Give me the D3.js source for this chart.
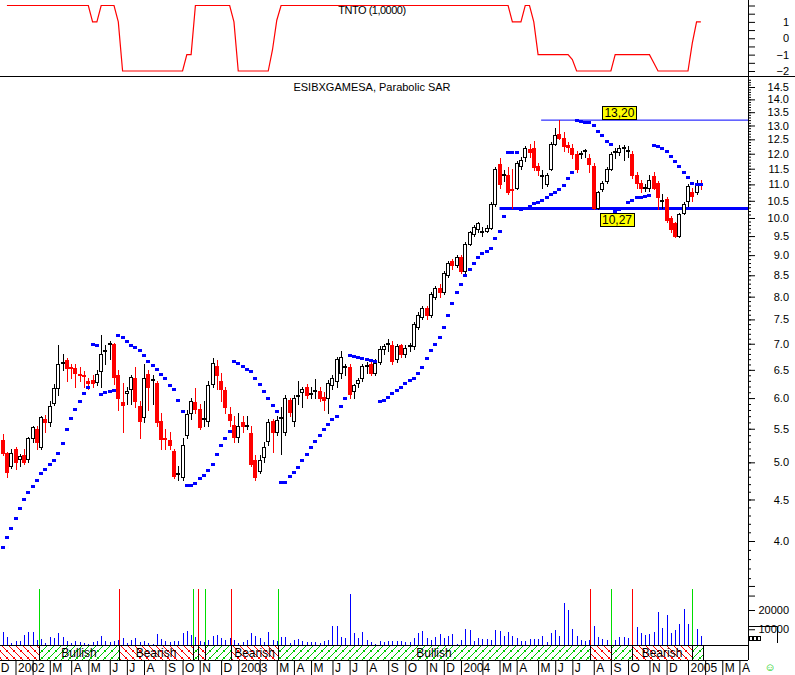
<!DOCTYPE html>
<html><head><meta charset="utf-8">
<script src="https://cdn.jsdelivr.net/npm/d3@7"></script>
<style>
body{margin:0;background:#fff}
svg{display:block}
text{font-family:"Liberation Sans",Arial,sans-serif}
</style>
</head><body>
<svg id="c" width="795" height="675"></svg>
<script>
// ---------------- DATA ----------------
const firstBar = "2001-12-07", lastBar = "2005-01-28";   // weekly bars (Fridays)
const open = [
5.95,5.33,5.13,4.95,5.20,5.05,5.10,5.05,5.35,5.50,
5.22,5.66,5.60,5.92,6.17,6.62,6.68,6.56,6.53,6.42,
6.40,6.30,6.32,6.28,6.47,6.85,7.00,7.00,6.41,5.93,
6.08,6.15,6.35,5.87,5.69,6.42,6.32,6.26,5.63,5.36,
5.33,5.16,4.84,4.79,5.40,5.75,5.93,5.82,5.66,5.62,
6.25,6.58,6.30,6.14,5.74,5.56,5.38,5.60,5.55,5.44,
5.03,4.88,5.08,5.31,5.63,5.45,5.67,5.45,5.97,5.63,
6.03,6.10,6.20,6.07,6.12,6.12,6.02,6.00,6.23,6.30,
6.45,6.55,6.55,6.12,6.26,6.36,6.57,6.60,6.45,6.65,
6.90,7.00,6.97,6.70,6.97,6.80,6.95,6.95,7.35,7.55,
7.75,7.60,8.00,8.20,8.10,8.50,8.85,8.75,8.95,8.60,
9.30,9.55,9.70,9.62,9.65,9.73,10.40,11.65,11.30,11.30,
10.85,10.90,11.60,11.90,12.15,12.20,11.60,11.25,11.00,11.50,
12.35,12.70,12.55,12.30,12.20,12.00,12.00,12.08,11.85,11.60,
10.30,10.85,11.10,11.50,12.05,12.05,12.20,12.10,12.00,11.30,
11.05,10.90,10.88,11.25,11.05,10.50,10.55,10.00,9.85,9.50,
10.15,10.50,10.75,10.75,11.05];
const high = [
6.00,5.42,5.15,5.20,5.22,5.12,5.20,5.38,5.55,5.55,
5.70,5.72,5.95,6.25,6.97,6.80,6.72,6.60,6.60,6.55,
6.48,6.35,6.40,6.50,7.17,6.98,7.05,7.02,6.50,6.27,
6.20,6.40,6.55,5.95,6.60,6.50,6.40,6.30,5.75,5.50,
5.45,5.20,4.95,5.35,5.80,6.00,6.18,5.90,5.95,6.30,
6.72,6.68,6.45,6.20,5.85,5.70,5.75,5.70,5.70,5.55,
5.10,5.10,5.30,5.65,5.65,5.70,5.85,6.05,6.00,6.05,
6.30,6.20,6.25,6.20,6.33,6.20,6.10,6.32,6.40,6.75,
6.85,6.60,6.60,6.25,6.35,6.60,6.65,6.65,6.70,6.95,
7.00,7.10,7.05,7.00,7.00,6.98,7.02,7.45,7.65,7.80,
7.80,8.10,8.25,8.30,8.60,8.85,8.90,9.00,9.00,9.35,
9.65,9.80,9.90,9.75,9.80,10.45,11.55,11.85,11.45,11.55,
11.50,11.75,11.90,12.25,12.35,12.45,11.70,11.45,11.35,12.40,
12.90,13.20,12.75,12.40,12.35,12.10,12.10,12.15,12.00,11.70,
10.80,11.10,11.55,12.05,12.20,12.30,12.30,12.25,12.10,11.40,
11.15,11.00,11.30,11.40,11.10,10.70,10.60,10.05,9.90,10.15,
10.45,11.00,10.90,11.15,11.15];
const low = [
5.05,5.10,4.80,4.92,4.90,4.95,4.98,5.00,5.30,5.20,
5.20,5.45,5.55,5.88,6.05,6.50,6.30,6.35,6.20,6.30,
6.20,6.15,6.20,6.22,6.20,6.60,6.70,6.25,5.80,5.45,
5.90,5.90,5.85,5.35,5.60,5.80,5.90,5.55,5.20,5.20,
5.20,4.78,4.75,4.75,5.35,5.65,5.75,5.50,5.55,5.55,
6.20,6.15,5.95,5.75,5.55,5.30,5.30,5.45,5.50,4.95,
4.75,4.85,5.00,5.25,5.15,5.40,5.12,5.40,5.70,5.55,
5.90,5.85,6.00,6.00,6.00,5.95,5.80,5.75,6.15,6.20,
6.35,6.40,6.00,6.00,6.20,6.30,6.45,6.40,6.40,6.60,
6.80,6.85,6.60,6.65,6.75,6.75,6.85,6.90,7.30,7.50,
7.50,7.55,7.95,8.00,8.05,8.45,8.65,8.70,8.55,8.55,
9.25,9.50,9.60,9.50,9.60,9.70,10.35,10.90,11.10,10.70,
10.28,10.85,11.50,11.75,11.90,11.45,11.30,10.90,10.95,11.45,
12.30,12.50,12.10,12.05,11.85,11.40,11.85,11.90,11.40,10.27,
10.27,10.80,11.05,11.45,11.85,11.95,11.80,11.90,11.20,10.90,
10.75,10.80,10.80,10.85,10.25,10.30,9.90,9.60,9.48,9.48,
10.10,10.35,10.50,10.70,10.85];
const close = [
5.13,5.13,4.87,5.13,5.01,5.09,5.01,5.35,5.52,5.30,
5.68,5.60,5.87,6.17,6.60,6.62,6.53,6.53,6.45,6.40,
6.38,6.26,6.26,6.43,6.80,6.88,7.00,6.37,6.00,5.88,
6.12,6.37,5.95,5.62,6.35,6.20,6.32,5.60,5.34,5.34,
5.25,4.81,4.84,5.25,5.74,5.95,5.82,5.53,5.66,6.23,
6.62,6.40,6.15,5.85,5.64,5.38,5.55,5.55,5.55,4.98,
4.80,5.03,5.22,5.60,5.45,5.64,5.67,6.00,5.77,6.00,
6.03,6.16,6.05,6.07,6.12,6.00,5.97,6.27,6.35,6.70,
6.75,6.55,6.07,6.22,6.31,6.57,6.57,6.45,6.62,6.90,
6.95,7.00,6.66,6.95,6.80,6.92,6.95,7.40,7.60,7.75,
7.60,8.05,8.20,8.10,8.55,8.80,8.75,8.95,8.60,9.30,
9.60,9.75,9.85,9.62,9.72,10.40,11.50,11.00,11.30,10.75,
10.83,11.70,11.80,12.20,12.05,11.55,11.45,11.25,11.30,12.35,
12.65,12.55,12.25,12.22,12.00,11.50,12.00,12.08,11.65,10.30,
10.75,11.05,11.50,12.00,12.05,12.20,12.20,12.10,11.30,11.05,
10.90,10.90,11.15,10.90,10.60,10.50,9.95,9.70,9.50,10.10,
10.40,10.95,10.65,11.05,11.00];
const sar = [
3.82,3.93,4.04,4.15,4.27,4.39,4.50,4.59,4.68,4.76,
4.85,4.91,4.98,5.04,5.13,5.28,5.50,5.67,5.82,5.95,
6.08,6.19,7.00,6.97,6.07,6.10,6.12,6.14,7.17,7.13,
7.05,6.98,6.93,6.87,6.77,6.67,6.59,6.51,6.43,6.35,
6.23,6.15,5.97,5.78,4.69,4.69,4.72,4.78,4.83,4.89,
4.97,5.12,5.25,5.36,5.47,6.66,6.62,6.57,6.52,6.47,
6.36,6.24,6.13,6.00,5.88,5.79,4.73,4.73,4.81,4.87,
4.93,5.03,5.12,5.22,5.31,5.40,5.50,5.58,5.66,5.71,
5.86,6.00,6.77,6.76,6.74,6.72,6.70,6.68,6.67,5.95,
5.96,6.01,6.08,6.14,6.20,6.26,6.32,6.35,6.44,6.55,
6.73,6.87,7.00,7.13,7.35,7.60,7.85,8.10,8.30,8.50,
8.65,8.80,8.95,9.05,9.10,9.18,9.45,9.65,10.05,12.05,
12.05,12.05,10.25,10.30,10.34,10.42,10.47,10.53,10.60,10.70,
10.76,10.86,10.98,11.19,11.40,13.20,13.18,13.14,13.14,13.00,
12.80,12.65,12.45,12.34,10.20,10.25,10.30,10.45,10.53,10.60,
10.61,10.64,10.68,12.30,12.26,12.18,12.10,11.93,11.77,11.58,
11.40,11.22,11.05,11.00,11.00];
const volume = [
5000,8420,6130,3010,3900,3900,7010,8420,8420,4420,
4780,2700,5820,5610,8210,6130,3900,2700,3900,3220,
3010,2340,3220,3900,6490,3900,3530,3900,4420,5300,
3010,4420,5300,3530,3900,3010,2340,7530,4780,3900,
3530,3900,4050,8210,9250,7010,6130,3900,3530,4420,
6490,7010,5610,4420,5610,4500,3010,3530,4420,8210,
6490,5300,3530,8570,4420,3900,5820,5820,3010,4420,
4780,3900,3220,3220,3220,2700,4050,4420,11690,11690,
5820,5300,28310,8210,5300,8420,4420,3220,2180,4050,
3530,3900,3900,3900,4050,3530,3220,5300,7900,9090,
5300,4420,5820,7380,5300,6490,7530,2340,4420,10130,
9610,3900,5300,4780,4780,4420,9610,9090,6490,8420,
6490,5300,3900,4050,4780,4780,4780,6490,3220,8210,
9610,6490,23790,20000,10130,6490,4420,4050,4420,11690,
5820,4940,4420,6130,4420,6130,6130,5300,14440,11010,
8210,7010,7530,8420,18810,10810,17400,8210,9610,12730,
20520,12730,8730,9970,6490];
const tnto = [
null,null,2,2,2,2,2,2,2,2,
2,2,2,2,2,2,2,2,2,2,
2,2,1,1,2,2,2,2,1,-2,
-2,-2,-2,-2,-2,-2,-2,-2,-2,-2,
-2,-2,-2,-2,-1,-1,2,2,2,2,
2,2,2,2,2,1,-2,-2,-2,-2,
-2,-2,-2,-2,-0.7,1.1,2,2,2,2,
2,2,2,2,2,2,2,2,2,2,
2,2,2,2,2,2,2,2,2,2,
2,2,2,2,2,2,2,2,2,2,
2,2,2,2,2,2,2,2,2,2,
2,2,2,2,2,2,2,2,2,2,
1,1,1,2,2,1,-1,-1,-1,-1,
-1,-1,-1,-1,-1.3,-2,-2,-2,-2,-2,
-2,-2,-2,-2,-1,-1,-1,-1,-1,-1,
-1,-1,-1,-1.5,-2,-2,-2,-2,-2,-2,
-2,-2,-0.3,1,1];
const priceTicks = [4.0,4.5,5.0,5.5,6.0,6.5,7.0,7.5,8.0,8.5,9.0,9.5,10.0,10.5,11.0,11.5,12.0,12.5,13.0,13.5,14.0,14.5];
const tntoTicks = [-2,-1.5,-1,-0.5,0,0.5,1,1.5,2];
const tntoLabels = [-2,-1,0,1];
const volTicks = [10000,20000,27500,32500];
const volLabels = [10000,20000];
const signalDates = ["2002-02-11","2002-06-22","2002-10-21","2002-10-29","2002-11-09","2002-12-22","2003-03-09","2004-07-31","2004-09-03","2004-10-08","2005-01-13"];
const signalTypes = ["bull","bear","bull","bear","bull","bear","bull","bear","bull","bear","bull"];
const levelValues = [13.20, 10.27];
const levelStarts = ["2004-05-12","2004-03-05"];
const levelLabels = ["13,20","10,27"];
const levelLabelDates = ["2004-09-17","2004-09-13"];
const levelLabelSide = ["above","below"];
const monthLetters = ["J","","M","A","M","J","J","A","S","O","N","D"];  // Feb label hidden under the year label

// ---------------- LAYOUT ----------------
const AX = 748;
const parse = d3.timeParse("%Y-%m-%d");
const dates = d3.timeFriday.range(parse(firstBar), d3.timeDay.offset(parse(lastBar), 1));
const x = d3.scaleTime().domain([parse("2002-01-04"), parse("2005-01-07")]).range([15.5, 688]);
const yP = d3.scaleLog().domain([4, 14.5]).range([541, 87]);
const yT = d3.scaleLinear().domain([-2, 2]).range([71, 5.5]);
const yV = d3.scaleLinear().domain([0, 20000]).range([648.5, 610]);

const svg = d3.select("#c");
const defs = svg.append("defs");
defs.append("clipPath").attr("id","cm").append("rect").attr("x",0).attr("y",78).attr("width",AX).attr("height",567);
defs.append("clipPath").attr("id","ct").append("rect").attr("x",0).attr("y",0).attr("width",AX).attr("height",76);
defs.append("clipPath").attr("id","cv").append("rect").attr("x",0).attr("y",560).attr("width",AX).attr("height",85);
const pR = defs.append("pattern").attr("id","hr").attr("patternUnits","userSpaceOnUse").attr("width",7).attr("height",7);
pR.append("path").attr("d","M-1,-1L8,8M5,-1L8,2M-1,5L2,8").attr("stroke","#ff0000").attr("stroke-width",1);
const pG = defs.append("pattern").attr("id","hg").attr("patternUnits","userSpaceOnUse").attr("width",7).attr("height",7);
pG.append("path").attr("d","M-1,8L8,-1M-1,2L2,-1M5,8L8,5").attr("stroke","#00cc00").attr("stroke-width",1);

const bars = dates.map((d,i)=>({d, o:open[i], h:high[i], l:low[i], c:close[i], v:volume[i], s:sar[i], t:tnto[i]}));
const cxOf = d => Math.round(x(d));

// ---- top indicator panel
const gT = svg.append("g").attr("clip-path","url(#ct)");
gT.append("path").datum(bars.filter(b=>b.t!=null))
  .attr("d", d3.line().x(b=>x(b.d)).y(b=>yT(b.t)))
  .attr("fill","none").attr("stroke","#ff0000").attr("stroke-width",1.2);
svg.append("text").attr("x",372).attr("y",14).attr("text-anchor","middle")
  .attr("font-size",11).attr("letter-spacing",-0.5).text("TNTO (1,0000)");
const axT = svg.append("g").attr("transform",`translate(${AX},0)`)
  .call(d3.axisRight(yT).tickValues(tntoTicks).tickSize(7).tickFormat(v=>tntoLabels.includes(v)?d3.format("d")(v):""));
svg.append("line").attr("x1",0).attr("x2",795).attr("y1",76.5).attr("y2",76.5).attr("stroke","#000");

// ---- main price panel
const gM = svg.append("g").attr("clip-path","url(#cm)");
svg.append("text").attr("x",372).attr("y",91).attr("text-anchor","middle").attr("font-size",11)
  .text("ESIBXGAMESA, Parabolic SAR");
levelValues.forEach((v,k)=>{
  const yy = yP(v);
  gM.append("line").attr("x1",x(parse(levelStarts[k]))).attr("x2",AX).attr("y1",yy).attr("y2",yy)
    .attr("stroke","#0000ff").attr("stroke-width", k===0?1:3);
});
bars.forEach(b=>{
  const cx = cxOf(b.d);
  const yh = Math.round(yP(b.h)), yl = Math.round(yP(b.l));
  const yt = Math.round(yP(Math.max(b.o,b.c))), yb = Math.round(yP(Math.min(b.o,b.c)));
  const up = b.c > b.o, flat = b.c === b.o;
  const col = up||flat ? "#000" : "#ff0000";
  gM.append("rect").attr("x",cx).attr("y",yh).attr("width",1).attr("height",Math.max(1,yl-yh+1)).attr("fill",col);
  if (flat) {
    gM.append("rect").attr("x",cx-2).attr("y",yt-1).attr("width",4).attr("height",2).attr("fill","#000");
  } else if (up) {
    gM.append("rect").attr("x",cx-1.5).attr("y",yt+0.5).attr("width",3).attr("height",Math.max(1,yb-yt))
      .attr("fill","#fff").attr("stroke","#000").attr("stroke-width",1);
  } else {
    gM.append("rect").attr("x",cx-2).attr("y",yt).attr("width",4).attr("height",Math.max(1,yb-yt+1)).attr("fill","#ff0000");
  }
});
gM.selectAll("rect.sar").data(bars.filter(b=>b.s!=null)).enter().append("rect").attr("class","sar")
  .attr("x",b=>cxOf(b.d)-2).attr("y",b=>Math.round(yP(b.s))-1).attr("width",4).attr("height",3).attr("fill","#0000ff");
levelValues.forEach((v,k)=>{
  const cx = x(parse(levelLabelDates[k])), yy = yP(v);
  const by = levelLabelSide[k]==="above" ? Math.round(yy)-14 : Math.round(yy)+4;
  svg.append("rect").attr("x",Math.round(cx-17)+0.5).attr("y",by+0.5).attr("width",34).attr("height",13)
    .attr("fill","#ffff00").attr("stroke","#000");
  svg.append("text").attr("x",cx).attr("y",by+11).attr("text-anchor","middle").attr("font-size",12).text(levelLabels[k]);
});
const minor = d3.range(36, 149).map(v=>v/10);
svg.append("g").attr("transform",`translate(${AX},0)`).call(d3.axisRight(yP).tickValues(minor).tickSize(3).tickFormat(""));
const axP = svg.append("g").attr("transform",`translate(${AX},0)`)
  .call(d3.axisRight(yP).tickValues(priceTicks).tickSize(7).tickFormat(d3.format(".1f")));

// ---- volume panel
const gV = svg.append("g").attr("clip-path","url(#cv)");
gV.selectAll("rect.vol").data(bars).enter().append("rect").attr("class","vol")
  .attr("x",b=>cxOf(b.d)).attr("y",b=>Math.round(yV(b.v))).attr("width",1)
  .attr("height",b=>Math.max(0,645-Math.round(yV(b.v)))).attr("fill","#0000ff");
signalDates.forEach((s,k)=>{
  gV.append("rect").attr("x",Math.round(x(parse(s)))).attr("y",589).attr("width",1).attr("height",56)
    .attr("fill", signalTypes[k]==="bull" ? "#00dd00" : "#ff0000");
});
const axV = svg.append("g").attr("transform",`translate(${AX},0)`)
  .call(d3.axisRight(yV).tickValues(volTicks).tickSize(7).tickFormat(v=>volLabels.includes(v)?String(v):""));
svg.append("path").attr("d","M748,626.5H777.5V643").attr("fill","none").attr("stroke","#000");
[749,753,757].forEach(px=>svg.append("rect").attr("x",px+0.5).attr("y",636.5).attr("width",3).attr("height",4).attr("fill","none").attr("stroke","#000"));

// ---- signal band
const sx = signalDates.map(s=>Math.round(x(parse(s))));
const endX = cxOf(dates[dates.length-1]) + 2;
const segs = [{x0:0, x1:sx[0], t: signalTypes[0]==="bull"?"bear":"bull"}];
sx.forEach((v,k)=>segs.push({x0:v, x1: k+1<sx.length ? sx[k+1] : endX, t: signalTypes[k]}));
const gB = svg.append("g");
segs.forEach(s=>{
  gB.append("rect").attr("x",s.x0).attr("y",645).attr("width",s.x1-s.x0).attr("height",15).attr("fill","#fff");
  gB.append("rect").attr("x",s.x0).attr("y",645).attr("width",s.x1-s.x0).attr("height",15)
    .attr("fill", s.t==="bull" ? "url(#hg)" : "url(#hr)");
  if (s.x1 - s.x0 > 45) gB.append("text").attr("x",(s.x0+s.x1)/2).attr("y",657).attr("text-anchor","middle")
    .attr("font-size",12).text(s.t==="bull"?"Bullish":"Bearish");
});
sx.concat([endX]).forEach(v=>gB.append("line").attr("x1",v+0.5).attr("x2",v+0.5).attr("y1",645).attr("y2",660).attr("stroke","#000"));
gB.append("line").attr("x1",0).attr("x2",AX).attr("y1",645.5).attr("y2",645.5).attr("stroke","#000");
gB.append("line").attr("x1",0).attr("x2",AX).attr("y1",660.5).attr("y2",660.5).attr("stroke","#000");

// ---- month axis
const axisDates = d3.timeFriday.range(parse(firstBar), x.invert(AX));
const monthStarts = axisDates.filter((d,i)=> i===0 || d.getMonth()!==axisDates[i-1].getMonth());
const axM = svg.append("g").attr("transform","translate(0,660)")
  .call(d3.axisBottom(x).tickValues(monthStarts).tickSize(15)
    .tickFormat(d=> d.getMonth()===0 ? String(d.getFullYear()) : monthLetters[d.getMonth()]));
axM.select(".domain").remove();
axM.selectAll(".tick line").attr("stroke","#000");
axM.selectAll(".tick text").attr("text-anchor","start").attr("x",2).attr("y",3).attr("dy","0.71em")
  .attr("font-size",12).attr("fill","#000").attr("font-family","Liberation Sans, Arial, sans-serif");

[axT, axP, axV].forEach(g=>{
  g.select(".domain").remove();
  g.selectAll(".tick line").attr("stroke","#000");
  g.selectAll(".tick text").attr("text-anchor","end").attr("x",41).attr("font-size",11).attr("fill","#000")
    .attr("font-family","Liberation Sans, Arial, sans-serif");
});
svg.selectAll("g .domain").remove();
svg.append("line").attr("x1",AX+0.5).attr("x2",AX+0.5).attr("y1",0).attr("y2",660).attr("stroke","#000");
svg.append("text").attr("x",770).attr("y",671).attr("text-anchor","middle").attr("font-size",11)
  .attr("fill","#00cc00").attr("font-family","DejaVu Sans").text("\u263A");
</script>
</body></html>
